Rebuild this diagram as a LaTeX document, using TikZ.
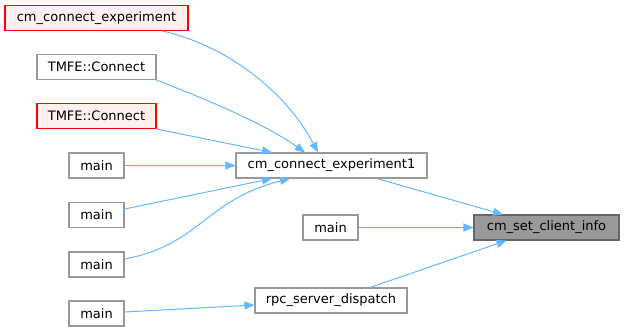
\documentclass[tikz,border=0pt]{standalone}
\usepackage{fontspec}
\setmainfont{DejaVu Sans}
\usepackage{tikz}
\usetikzlibrary{arrows.meta,positioning,calc}
\definecolor{edgeBlue}{HTML}{63B8FF}
\definecolor{boxDraw}{HTML}{999999}
\definecolor{hiFill}{HTML}{999999}
\definecolor{hiDraw}{HTML}{666666}
\definecolor{redFill}{HTML}{FFF0F0}
\definecolor{redDraw}{HTML}{FF0000}
\tikzset{
  font=\fontsize{13}{15}\selectfont,
  box/.style  ={draw=boxDraw, fill=white, inner sep=0pt, minimum height=25pt, line width=1.1pt},
  fn/.style   ={box},
  trunc/.style={box, fill=redFill, draw=redDraw},
  hi/.style   ={box, fill=hiFill, draw=hiDraw},
  arr/.style  ={-{Triangle[length=10pt,width=8pt,fill=edgeBlue]}, draw=edgeBlue, line width=1pt},
}
\begin{document}
\begin{tikzpicture}[x=1pt,y=-1pt]
  \useasboundingbox (0,0) rectangle (624,332);
  % left column
  \node[trunc, minimum width=183pt] (cce)   at (96.5,18)    {cm\_connect\_experiment};
  \node[fn,    minimum width=119pt] (tmfeA) at (96.5,67)    {TMFE::Connect};
  \node[trunc, minimum width=119pt] (tmfeB) at (96.5,116)   {TMFE::Connect};
  \node[fn,    minimum width=55pt]  (mainA) at (96.5,165.5) {main};
  \node[fn,    minimum width=55pt]  (mainB) at (96.5,215)   {main};
  \node[fn,    minimum width=55pt]  (mainC) at (96.5,264.5) {main};
  \node[fn,    minimum width=55pt]  (mainD) at (96.5,313.5) {main};
  % middle column
  \node[fn, minimum width=191pt] (cceA) at (331.5,165.5) {cm\_connect\_experiment1};
  \node[fn, minimum width=55pt]  (mainM) at (330.5,227.5) {main};
  \node[fn, minimum width=152pt] (rpc)   at (331,300.5)   {rpc\_server\_dispatch};
  % right column
  \node[hi, minimum width=145pt] (csci)  at (546.5,227.5) {cm\_set\_client\_info};

  \draw[arr] ([xshift=-26]cce.south east) .. controls (225,45) and (285,90) .. ([xshift=-13.5]cceA.north);
  \draw[arr] (tmfeA.south east) .. controls (200,97) and (262,122) .. ([xshift=-26.5]cceA.north);
  \draw[arr] (tmfeB.south east) -- ([xshift=-59.5]cceA.north);
  \draw[arr] (mainA) -- (cceA);
  \draw[arr] ([yshift=6]mainB.east) -- ([xshift=-59.5]cceA.south);
  \draw[arr] ([yshift=5.5]mainC.east) .. controls (200,245) and (205,200) .. ([xshift=-41.5]cceA.south);
  \draw[arr] ([yshift=1.5]mainD.east) -- ([yshift=-4.5]rpc.west);
  \draw[arr] ([xshift=45.5]cceA.south) -- ([xshift=-43.5]csci.north);
  \draw[arr] (mainM) -- (csci);
  \draw[arr] ([xshift=39]rpc.north) -- ([xshift=-40]csci.south);
\end{tikzpicture}
\end{document}
